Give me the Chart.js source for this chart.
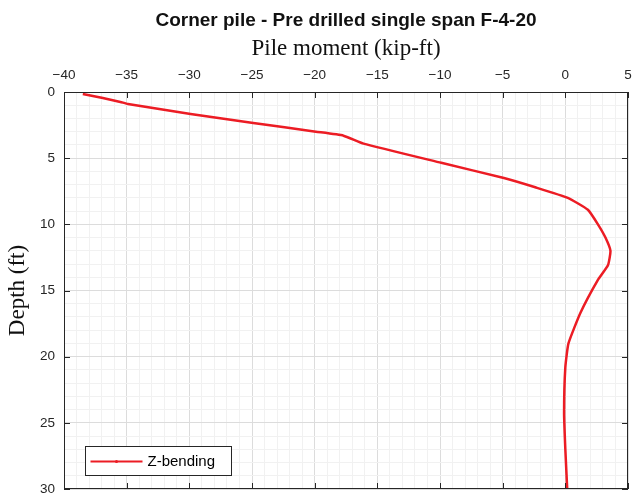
<!DOCTYPE html>
<html>
<head>
<meta charset="utf-8">
<script src="https://cdn.jsdelivr.net/npm/chart.js@4/dist/chart.umd.min.js"></script>
<style>
  html, body { margin: 0; padding: 0; background: #fff; }
  #wrap { width: 632px; height: 502px; }
</style>
</head>
<body>
<div id="wrap"><canvas id="pileChart"></canvas></div>
<script>
// Z-bending moment along the pile
const moment = [-38.5, -36.9, -35.5, -34.9, -29.9, -24.9, -19.9, -17.7, -16.1, -9.9, -4.9, -2.4, 0.2, 1.8, 2.6, 3.2, 3.6, 3.4, 2.6, 1.2, 0.25, 0.0, -0.1, 0.0, 0.15];
const depth  = [0.15, 0.45, 0.75, 0.9, 1.66, 2.34, 3.0, 3.3, 3.9, 5.35, 6.5, 7.2, 8.0, 8.9, 10.0, 11.0, 12.0, 13.1, 14.2, 16.7, 19.0, 20.8, 24.3, 27.0, 30.0];
const momentTicks = [-40, -35, -30, -25, -20, -15, -10, -5, 0, 5];
const depthTicks = [0, 5, 10, 15, 20, 25, 30];

const SANS = "'Liberation Sans', Arial, sans-serif";
const SERIF = "'Liberation Serif', 'Times New Roman', serif";
const AXIS_COLOR = '#262626';

const points = moment.map((m, i) => ({ x: m, y: depth[i] }));

const gridColor = c => (c.tick && c.tick.value % 5 === 0) ? '#dcdcdc' : '#f1f1f1';

// box around the axes, inward ticks and the legend inside the plot
const axesBox = {
  id: 'axesBox',
  afterDraw(chart) {
    const { ctx, chartArea: a, scales: { x, y } } = chart;
    ctx.save();
    ctx.strokeStyle = AXIS_COLOR;
    ctx.lineWidth = 1;
    ctx.strokeRect(Math.round(a.left) + 0.5, Math.round(a.top) + 0.5,
      Math.round(a.right - a.left) - 1, Math.round(a.bottom - a.top) - 1);

    ctx.beginPath();
    momentTicks.forEach(v => {
      const px = Math.round(x.getPixelForValue(v)) + 0.5;
      ctx.moveTo(px, a.top); ctx.lineTo(px, a.top + 6);
      ctx.moveTo(px, a.bottom); ctx.lineTo(px, a.bottom - 6);
    });
    depthTicks.forEach(v => {
      const py = Math.round(y.getPixelForValue(v)) + 0.5;
      ctx.moveTo(a.left, py); ctx.lineTo(a.left + 6, py);
      ctx.moveTo(a.right, py); ctx.lineTo(a.right - 6, py);
    });
    ctx.stroke();

    // legend
    const ds = chart.data.datasets[0];
    const lx = Math.round(a.left) + 21.5, ly = Math.round(a.bottom) - 42.5;
    ctx.fillStyle = '#fff';
    ctx.fillRect(lx, ly, 146, 29);
    ctx.strokeStyle = AXIS_COLOR;
    ctx.strokeRect(lx, ly, 146, 29);
    ctx.strokeStyle = ds.borderColor;
    ctx.lineWidth = 2;
    ctx.beginPath();
    ctx.moveTo(lx + 5, ly + 15);
    ctx.lineTo(lx + 57, ly + 15);
    ctx.stroke();
    ctx.fillStyle = ds.borderColor;
    ctx.beginPath();
    ctx.arc(lx + 31, ly + 15, 1.5, 0, Math.PI * 2);
    ctx.fill();
    ctx.fillStyle = '#000';
    ctx.font = '15px ' + SANS;
    ctx.textBaseline = 'middle';
    ctx.fillText(ds.label, lx + 62, ly + 15);
    ctx.restore();
  }
};

new Chart(document.getElementById('pileChart'), {
  type: 'scatter',
  data: {
    datasets: [{
      label: 'Z-bending',
      data: points,
      showLine: true,
      borderColor: '#ec1c24',
      borderWidth: 2.5,
      pointRadius: 0,
      tension: 0.15
    }]
  },
  options: {
    responsive: true,
    maintainAspectRatio: false,
    animation: false,
    layout: { padding: { left: 0, right: 4, top: 0, bottom: 13 } },
    plugins: {
      legend: { display: false },
      tooltip: { enabled: false },
      title: {
        display: true,
        text: 'Corner pile - Pre drilled single span F-4-20',
        color: '#111',
        fullSize: false,
        font: { family: SANS, size: 19, weight: 'bold' },
        padding: { top: 9, bottom: 3 }
      }
    },
    scales: {
      x: {
        type: 'linear',
        position: 'top',
        min: -40,
        max: 5,
        afterFit(scale) {
          scale.height = 57.2;
          scale.paddingLeft = 0;
          scale.paddingRight = 0;
        },
        ticks: {
          stepSize: 1,
          autoSkip: false,
          maxRotation: 0,
          padding: 9,
          color: AXIS_COLOR,
          font: { family: SANS, size: 13.5 },
          callback: v => (v % 5 === 0 ? String(v).replace('-', '\u2212') : '')
        },
        grid: { color: gridColor, drawTicks: false, lineWidth: 1 },
        border: { display: false },
        title: {
          display: true,
          text: 'Pile moment (kip-ft)',
          color: '#111',
          font: { family: SERIF, size: 23 },
          padding: { top: 0, bottom: 0 }
        }
      },
      y: {
        type: 'linear',
        reverse: true,
        min: 0,
        max: 30,
        afterFit(scale) {
          scale.width = 64;
          scale.paddingTop = 0;
          scale.paddingBottom = 0;
        },
        ticks: {
          stepSize: 1,
          autoSkip: false,
          padding: 9,
          color: AXIS_COLOR,
          font: { family: SANS, size: 13.5 },
          callback: v => (v % 5 === 0 ? String(v) : '')
        },
        grid: { color: gridColor, drawTicks: false, lineWidth: 1 },
        border: { display: false },
        title: {
          display: true,
          text: 'Depth (ft)',
          color: '#111',
          font: { family: SERIF, size: 23 },
          padding: { top: 4, bottom: 0 }
        }
      }
    }
  },
  plugins: [axesBox]
});
</script>
</body>
</html>
